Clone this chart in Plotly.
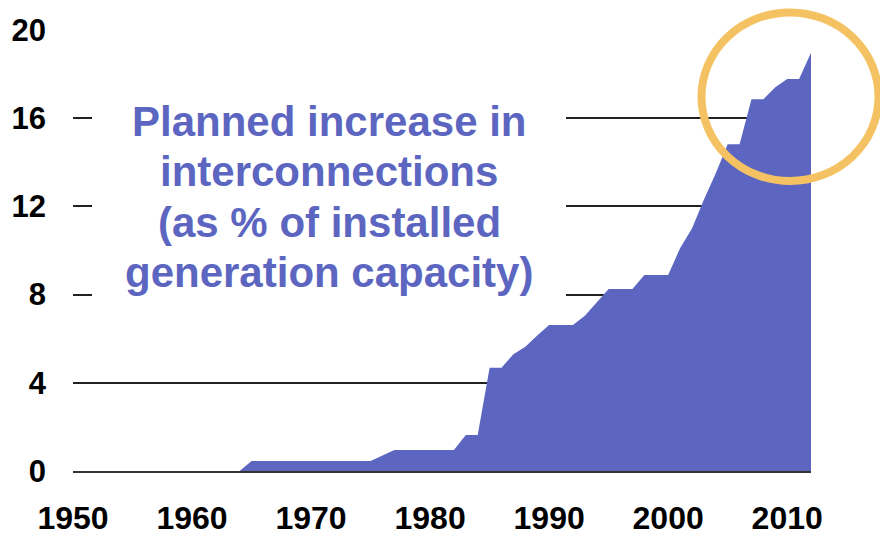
import plotly.graph_objects as go

# Planned interconnection capacity as a share of installed generation capacity
years = [1964, 1965, 1966, 1967, 1968, 1969, 1970, 1971, 1972, 1973, 1974,
         1975, 1976, 1977, 1978, 1979, 1980, 1981, 1982, 1983, 1984, 1985,
         1986, 1987, 1988, 1989, 1990, 1991, 1992, 1993, 1994, 1995, 1996,
         1997, 1998, 1999, 2000, 2001, 2002, 2003, 2004, 2005, 2006, 2007,
         2008, 2009, 2010, 2011, 2012]
share_pct = [0.0, 0.45, 0.45, 0.45, 0.45, 0.45, 0.45, 0.45, 0.45, 0.45, 0.45,
             0.45, 0.7, 0.95, 0.95, 0.95, 0.95, 0.95, 0.95, 1.63, 1.63, 4.68,
             4.68, 5.3, 5.64, 6.15, 6.62, 6.62, 6.62, 7.04, 7.65, 8.25, 8.25,
             8.25, 8.89, 8.89, 8.89, 10.1, 11.0, 12.3, 13.5, 14.82, 14.82, 16.86,
             16.86, 17.4, 17.78, 17.78, 18.97]

x_ticks = [1950, 1960, 1970, 1980, 1990, 2000, 2010]
y_ticks = [0, 4, 8, 12, 16, 20]

title_lines = ["Planned increase in", "interconnections",
               "(as % of installed", "generation capacity)"]

PURPLE = "#5c66c1"
ORANGE = "#f5c263"
FONT = "Liberation Sans, Arial, sans-serif"

# plot-area geometry in pixels (used to place the caption lines)
PLOT_LEFT, PLOT_W = 73, 738
PLOT_BOTTOM, PLOT_H = 471, 441
CAPTION_CX = 329
CAPTION_CY = [122, 172, 222, 272]

fig = go.Figure()
fig.add_trace(go.Scatter(
    x=years, y=share_pct, mode="lines", fill="tozeroy",
    fillcolor=PURPLE, line=dict(width=0, color=PURPLE),
    hoverinfo="x+y", showlegend=False,
))

annotations = []
for line, cy in zip(title_lines, CAPTION_CY):
    annotations.append(dict(
        x=(CAPTION_CX - PLOT_LEFT) / PLOT_W,
        y=(PLOT_BOTTOM - cy) / PLOT_H,
        xref="paper", yref="paper", xanchor="center", yanchor="middle",
        text=f"<b>{line}</b>",
        font=dict(size=42, family=FONT, color=PURPLE),
        showarrow=False,
    ))

fig.update_layout(
    width=880, height=537,
    margin=dict(l=73, r=69, t=30, b=66),
    paper_bgcolor="white", plot_bgcolor="white",
    font=dict(family=FONT, color="black"),
    xaxis=dict(
        range=[1950, 2012], tickvals=x_ticks,
        ticktext=[f"<b>{v}</b>" for v in x_ticks],
        tickfont=dict(size=32, family=FONT, color="black"),
        showgrid=False, zeroline=False,
        showline=True, linecolor="#333333", linewidth=2,
        ticks="", ticklabelstandoff=18, automargin=False,
    ),
    yaxis=dict(
        range=[0, 20], tickvals=y_ticks,
        ticktext=[f"<b>{v}</b>" for v in y_ticks],
        tickfont=dict(size=31, family=FONT, color="black"),
        showgrid=True, gridcolor="#222222", gridwidth=1.5,
        zeroline=False, showline=False, ticks="", ticklabelstandoff=26,
        automargin=False,
    ),
    annotations=annotations,
    shapes=[
        # white panel behind the caption, hiding the gridlines there
        dict(type="rect", xref="paper", yref="paper",
             x0=(92 - PLOT_LEFT) / PLOT_W, x1=(566 - PLOT_LEFT) / PLOT_W,
             y0=(PLOT_BOTTOM - 300) / PLOT_H, y1=(PLOT_BOTTOM - 98) / PLOT_H,
             fillcolor="white", line=dict(width=0), layer="above"),
        # highlight ring around the most recent years
        dict(type="circle", xref="paper", yref="paper",
             x0=0.8516, x1=1.0915, y0=0.6576, y1=1.0399,
             line=dict(color=ORANGE, width=8), layer="above"),
    ],
)

fig.write_html("out.html")
